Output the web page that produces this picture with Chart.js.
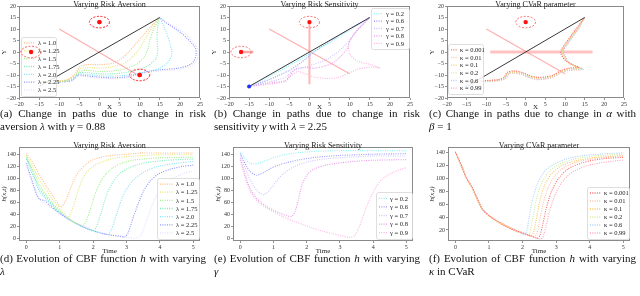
<!DOCTYPE html>
<html><head><meta charset="utf-8">
<script src="https://cdn.jsdelivr.net/npm/chart.js@4.4.1/dist/chart.umd.min.js"></script>
<style>
html,body{margin:0;padding:0;background:#fff;width:640px;height:296px;overflow:hidden;position:relative}
canvas{position:absolute}
.cap{position:absolute;font-family:"Liberation Serif","Times New Roman",serif;font-size:11px;line-height:12.5px;color:#111;text-align:justify;text-align-last:left}
</style></head><body>
<canvas id="ca" width="206" height="111" style="left:0px;top:0px"></canvas>
<canvas id="cb" width="206" height="111" style="left:210px;top:0px"></canvas>
<canvas id="cc" width="206" height="111" style="left:428px;top:0px"></canvas>
<canvas id="cd" width="206" height="115" style="left:0px;top:140px"></canvas>
<canvas id="ce" width="206" height="115" style="left:214px;top:140px"></canvas>
<canvas id="cf" width="206" height="115" style="left:428px;top:140px"></canvas>
<div class="cap" style="left:0px;top:107px;width:206px">(a) Change in paths due to change in risk aversion <i>λ</i> with <i>γ</i> = 0.88</div>
<div class="cap" style="left:214px;top:107px;width:206px">(b) Change in paths due to change in risk sensitivity <i>γ</i> with <i>λ</i> = 2.25</div>
<div class="cap" style="left:429px;top:107px;width:207px">(c) Change in paths due to change in <i>α</i> with <span style="white-space:nowrap"><i>β</i> = 1</span></div>
<div class="cap" style="left:0px;top:252px;width:206px">(d) Evolution of CBF function <i>h</i> with varying <i>λ</i></div>
<div class="cap" style="left:214px;top:252px;width:206px">(e) Evolution of CBF function <i>h</i> with varying <i>γ</i></div>
<div class="cap" style="left:429px;top:252px;width:207px">(f) Evolution of CBF function <i>h</i> with varying <span style="white-space:nowrap"><i>κ</i> in</span> CVaR</div>
<script>
// ================= DATA =================
const lambdaLabels = ['λ = 1.0','λ = 1.25','λ = 1.5','λ = 1.75','λ = 2.0','λ = 2.25','λ = 2.5'];
const gammaLabels  = ['γ = 0.2','γ = 0.6','γ = 0.7','γ = 0.8','γ = 0.9'];
const kappaLabels  = ['κ = 0.001','κ = 0.01','κ = 0.1','κ = 0.2','κ = 0.6','κ = 0.99'];
const panelTitles  = ['Varying Risk Aversion','Varying Risk Sensitivity','Varying CVaR parameter'];

// straight reference path start -> goal
const refLine = [[-15,-15],[15,15]];
const startPoint = [[-15,-15]];
const obstacleRadius = 2.5;

// (a) paths, varying lambda
const pathA_l100 = [[-15,-13],[-11,-12.8],[-8,-12],[-6,-9.5],[-5,-6.5],[-3,-5.5],[0,-5.5],[3,-5],[5,-3.5],[7,-0.5],[9,3.5],[11,7.5],[13,11.5],[15,15]];
const pathA_l125 = [[-15,-13],[-11,-12.8],[-8,-12.2],[-6,-10],[-5,-7.5],[-3,-6.8],[0,-7],[3,-6.5],[6,-5],[8,-2.5],[10,1.5],[11.5,6],[13,10.5],[15,15]];
const pathA_l150 = [[-15,-13],[-11,-12.9],[-8,-12.3],[-6,-10.5],[-5,-8.3],[-3,-8],[0,-8.5],[3,-8.3],[6,-7.5],[9,-5.5],[11,-2.5],[12,1],[12.5,5],[13.5,10],[15,15]];
const pathA_l175 = [[-15,-13],[-11,-13],[-8,-12.5],[-6,-11],[-5,-9],[-3,-9],[0,-9.5],[3,-9.5],[6,-9],[9,-8],[12,-6],[14,-3],[14.5,1],[14.3,6],[14.5,11],[15,15]];
const pathA_l200 = [[-15,-13],[-11,-13],[-8,-12.6],[-6,-11.3],[-5,-9.6],[-3,-9.8],[0,-10.3],[3,-10.5],[6,-10.2],[9,-9.5],[12,-8.5],[15,-7],[17,-4.5],[18,-1],[17.5,4],[16.5,9],[15,15]];
const pathA_l225 = [[-15,-13.2],[-11,-13],[-8,-12.8],[-6.5,-12],[-5.5,-10],[-4,-10.2],[-1,-10.8],[3,-11.2],[7,-10.8],[10.5,-9],[14.7,-7.8],[19.7,-7],[23,-5],[24,-1.5],[23.8,2],[20.5,8],[16.3,13],[15,15]];
const pathA_l250 = [[-15,-13.4],[-11,-13.2],[-8,-13],[-6.5,-12.3],[-5.5,-10.5],[-4,-10.6],[-1,-11.2],[3,-11.6],[7,-11.2],[10.5,-9.5],[14.7,-8.3],[20,-7.5],[23.5,-5.3],[24.5,-1.5],[24.2,2.2],[21,8.3],[16.5,13.2],[15,15]];
const obstaclesA = [[0,13],[10,-10],[-17,0]];
const obstacleTrackA = [[-10,10],[9,-9.5]];

// (b) paths, varying gamma
const pathB_g02 = [[-15,-15],[-10,-10.6],[-5,-5.8],[0,-0.8],[5,4.2],[10,9.5],[15,15]];
const pathB_g06 = [[-15,-15],[-10,-12],[-5,-8],[-2,-4.5],[1.5,0.5],[5,4.5],[9.5,9.5],[15,15]];
const pathB_g07 = [[-15,-15],[-10,-13],[-6,-11],[-4,-8],[0,-6],[4,-3.5],[7,0],[10,5],[12,10],[15,15]];
const pathB_g08 = [[-15,-15],[-10,-13.5],[-6,-12.5],[-5,-10.5],[-3.5,-7.5],[-1,-6.8],[1.5,-7],[4,-6],[6,-4.5],[8,-1.5],[9.5,2],[10,5],[11.5,8.7],[13,11.5],[15,15]];
const pathB_g09 = [[-15,-15],[-10,-14],[-6,-12.8],[-5,-11],[-3,-8.5],[-1,-9.5],[1.5,-11],[4,-11.5],[7,-11.2],[10,-9],[12,-7.5],[15.5,-6.5],[17.5,-7],[15.5,-5.6],[12,-4],[10,-1],[9.7,2.5],[10.6,6.5],[12.5,10.5],[15,15]];
const obstaclesB = [[0,13],[-17,0]];
const obstacleTrackB1 = [[-10,10],[10,-9.5]];
const obstacleTrackB2 = [[0,13],[0,-14]];
const obstacleTrackB3 = [[-17,0],[-14,0]];

// (c) paths, varying kappa
const pathC_k0001 = [[-15,-13],[-11,-12.5],[-7,-12],[-5.5,-11],[-4.7,-8.8],[-3,-8.2],[-1,-8.8],[1,-10.2],[3,-11],[5,-10.8],[7,-10],[9,-8],[11,-7],[13.5,-6.6],[12,-5.6],[10,-3.5],[9,-1],[9,0.8],[10,3.5],[11.5,7],[13,10.5],[15,15]];
const pathC_k001  = [[-15,-13.1],[-11,-12.6],[-7,-12.1],[-5.5,-11.1],[-4.6,-8.9],[-3,-8.4],[-1,-9],[1,-10.4],[3,-11.2],[5,-11],[7,-10.2],[9,-8.2],[11,-7.2],[13.8,-6.8],[12.2,-5.8],[10.2,-3.7],[9.2,-1.1],[9.1,0.7],[10.1,3.4],[11.6,7],[13.1,10.5],[15,15]];
const pathC_k01   = [[-15,-13.2],[-11,-12.7],[-7,-12.2],[-5.4,-11.2],[-4.5,-9.1],[-3,-8.6],[-1,-9.2],[1,-10.6],[3,-11.4],[5,-11.2],[7,-10.4],[9,-8.4],[11,-7.4],[14.1,-7],[12.4,-6],[10.4,-3.9],[9.4,-1.2],[9.2,0.6],[10.2,3.3],[11.7,6.9],[13.2,10.4],[15,15]];
const pathC_k02   = [[-15,-13.3],[-11,-12.8],[-7,-12.3],[-5.3,-11.3],[-4.4,-9.2],[-3,-8.8],[-1,-9.4],[1,-10.8],[3,-11.6],[5,-11.4],[7,-10.6],[9,-8.6],[11,-7.6],[14.3,-7.2],[12.6,-6.2],[10.6,-4.1],[9.6,-1.3],[9.3,0.5],[10.3,3.2],[11.8,6.8],[13.3,10.4],[15,15]];
const pathC_k06   = [[-15,-13.4],[-11,-12.9],[-7,-12.4],[-5.2,-11.4],[-4.3,-9.3],[-3,-9],[-1,-9.6],[1,-11],[3,-11.8],[5,-11.6],[7,-10.8],[9,-8.8],[11,-7.8],[14.5,-7.4],[12.8,-6.4],[10.8,-4.3],[9.8,-1.4],[9.4,0.4],[10.4,3.1],[11.9,6.7],[13.4,10.3],[15,15]];
const pathC_k099  = [[-15,-13.5],[-11,-13],[-7,-12.5],[-5.1,-11.5],[-4.2,-9.4],[-3,-9.2],[-1,-9.8],[1,-11.2],[3,-12],[5,-11.8],[7,-11],[9,-9],[11,-8],[14.7,-7.6],[13,-6.6],[11,-4.5],[10,-1.5],[9.5,0.3],[10.5,3],[12,6.6],[13.5,10.2],[15,15]];
const obstaclesC = [[0,13]];
const obstacleTrackC1 = [[-10,10],[10,-9.5]];
const obstacleTrackC2 = [[-9,0],[17,0]];

// (d) h(x,t) vs time, varying lambda
const tD_l100 = [0,0.2,0.4,0.6,0.8,1.0,1.05,1.15,1.3,1.45,1.6,1.8,2.0,2.4,3.0,3.5,5];
const hD_l100 = [141,125,105,87,70,54,52,60,80,100,113,124,131,137,140,142,142];
const tD_l125 = [0,0.2,0.4,0.6,0.8,1.0,1.15,1.25,1.35,1.5,1.65,1.8,2.0,2.3,2.7,3.3,4,5];
const hD_l125 = [138,118,97,80,64,50,40,35,45,70,95,110,120,128,134,137,139,139];
const tD_l150 = [0,0.2,0.4,0.6,0.8,1.0,1.2,1.4,1.6,1.7,1.8,1.95,2.1,2.25,2.4,2.6,2.9,3.3,4,5];
const hD_l150 = [136,112,88,72,58,46,36,28,23,22,30,55,80,97,108,118,126,131,134,135];
const tD_l175 = [0,0.2,0.4,0.6,0.8,1.0,1.3,1.6,1.85,2.0,2.1,2.25,2.4,2.6,2.8,3.1,3.5,4.2,5];
const hD_l175 = [134,108,82,68,55,44,32,22,15,13,20,45,72,95,108,118,125,130,132];
const tD_l200 = [0,0.2,0.4,0.6,0.8,1.0,1.3,1.6,2.0,2.3,2.45,2.55,2.7,2.85,3.0,3.2,3.5,3.9,4.5,5];
const hD_l200 = [132,104,78,65,53,43,31,22,13,8,7,15,40,65,82,97,110,119,125,128];
const tD_l225 = [0,0.15,0.3,0.4,0.55,0.7,1.0,1.3,1.6,2.0,2.4,2.8,2.95,3.05,3.2,3.35,3.5,3.7,3.95,4.3,4.7,5];
const hD_l225 = [125,100,75,65,63,55,42,31,22,13,7,4,3,10,35,58,78,95,107,115,120,122];
const tD_l250 = [0,0.15,0.3,0.45,0.7,1.0,1.4,1.8,2.2,2.6,3.0,3.3,3.45,3.6,3.8,4.0,4.3,4.7,5];
const hD_l250 = [122,96,72,62,53,41,28,18,10,5,2,1,8,30,60,80,97,108,112];

// (e) h(x,t) vs time, varying gamma
const tE_g02 = [0,0.1,0.2,0.3,0.4,0.55,0.7,0.9,1.1,1.4,1.8,2.3,3,4,5];
const hE_g02 = [144,136,129,125,124,125,128,132,136,140,143,145,146,146,146];
const tE_g06 = [0,0.1,0.2,0.3,0.4,0.5,0.6,0.75,0.9,1.1,1.4,1.8,2.3,3,4,5];
const hE_g06 = [141,130,119,111,107,105,107,111,116,121,126,131,135,138,140,141];
const tE_g07 = [0,0.1,0.2,0.3,0.4,0.5,0.6,0.7,0.8,0.95,1.1,1.3,1.6,2.0,2.5,3.2,4,5];
const hE_g07 = [138,124,110,97,87,80,75,73,76,85,96,108,119,127,132,135,137,137];
const tE_g08 = [0,0.1,0.2,0.3,0.45,0.6,0.8,1.0,1.2,1.4,1.55,1.65,1.75,1.85,2.0,2.2,2.5,2.9,3.4,4,5];
const hE_g08 = [134,115,97,82,70,61,53,47,42,38,37,45,65,88,105,115,121,125,128,130,131];
const tE_g09 = [0,0.1,0.2,0.3,0.45,0.6,0.8,1.0,1.3,1.6,1.9,2.2,2.5,2.8,3.1,3.3,3.45,3.6,3.75,3.9,4.1,4.3,4.6,5];
const hE_g09 = [131,110,92,78,66,58,50,44,36,29,23,17,12,8,4,2,5,22,45,66,87,100,110,118];

// (f) h(x,t) vs time, varying kappa
const tF_k0001 = [0,0.1,0.2,0.3,0.4,0.5,0.6,0.7,0.8,1.0,1.2,1.5,1.8,2.1,2.3,2.45,2.52,2.6,2.7,2.85,3.05,3.35,3.8,4.4,5];
const hF_k0001 = [140,129,117,103,94,86,74,63,52,42,35,26,19,14,10,7,12,28,52,78,98,114,124,130,132];
const tF_k001  = [0,0.1,0.2,0.3,0.4,0.5,0.6,0.7,0.8,1.0,1.2,1.5,1.8,2.1,2.25,2.35,2.42,2.5,2.6,2.75,2.95,3.25,3.7,4.3,5];
const hF_k001  = [140,128,116,103,94,85,74,63,53,43,35,27,20,14,11,9,14,32,58,84,103,117,126,131,134];
const tF_k01   = [0,0.1,0.2,0.3,0.4,0.5,0.6,0.7,0.8,1.0,1.2,1.5,1.8,2.05,2.25,2.32,2.4,2.5,2.65,2.85,3.15,3.6,4.2,5];
const hF_k01   = [139,128,116,103,93,85,73,62,52,42,35,26,19,14,10,15,34,62,88,106,119,127,132,135];
const tF_k02   = [0,0.1,0.2,0.3,0.4,0.5,0.6,0.7,0.8,1.0,1.2,1.5,1.8,2.0,2.15,2.22,2.3,2.4,2.55,2.75,3.05,3.5,4.1,5];
const hF_k02   = [139,127,115,102,93,84,73,62,52,42,35,26,19,15,11,16,37,65,90,108,120,129,134,137];
const tF_k06   = [0,0.1,0.2,0.3,0.4,0.5,0.6,0.7,0.8,1.0,1.2,1.5,1.8,1.95,2.05,2.12,2.2,2.3,2.45,2.65,2.95,3.4,4,5];
const hF_k06   = [139,128,116,103,94,85,74,64,53,43,36,27,20,15,12,18,40,68,92,110,122,131,136,139];
const tF_k099  = [0,0.1,0.2,0.3,0.4,0.5,0.6,0.7,0.8,1.0,1.2,1.5,1.8,2.1,2.35,2.55,2.62,2.7,2.8,2.95,3.15,3.45,3.9,4.5,5];
const hF_k099  = [141,130,118,104,95,86,75,63,52,42,34,25,18,13,9,6,11,26,48,72,92,108,119,125,128];

// ================= STYLES =================
const SERIF = '"Liberation Serif","Times New Roman",serif';
const lambdaColors = ['#ffbc80','#e6e678','#a0f088','#7eecb8','#86e2f6','#8a92ff','#e4deff'];
const gammaColors  = ['#8cf2f2','#9898ff','#ccc4ff','#e898e8','#ffb2e2'];
const kappaColors  = ['#ff6a6a','#ffc2ae','#ffc858','#cfeea0','#aad2ff','#ffa4b8'];
const trackColor = 'rgba(255,110,110,0.55)';

const pts = arr => arr.map(p => ({x:p[0], y:p[1]}));
const tz = (t,h) => t.map((v,i) => ({x:v, y:h[i]}));
function fmtTick(v){ return v < 0 ? '\u2212' + Math.abs(v) : String(v); }
function pathDs(data,label,color){ return {label, inLegend:true, data, showLine:true, pointRadius:0, borderColor:color, backgroundColor:color, borderWidth:1.1, borderDash:[1,1.3], fill:false, tension:0.25}; }
function dotDs(data,color,r){ return {data, showLine:false, pointRadius:r, pointBackgroundColor:color, pointBorderWidth:0, backgroundColor:color, borderColor:color}; }
function lineDs(data,color,w){ return {data, showLine:true, pointRadius:0, borderColor:color, borderWidth:w, fill:false, tension:0}; }

// ================= PLUGINS =================
function drawEllipses(chart,o){ if(!o||!o.centers||!o.centers.length) return; const xs=chart.scales.x, ys=chart.scales.y, c=chart.ctx; c.save(); c.strokeStyle='rgba(255,60,60,0.8)'; c.lineWidth=0.9; c.setLineDash([2,1.5]); o.centers.forEach(p=>{ const px=xs.getPixelForValue(p[0]), py=ys.getPixelForValue(p[1]); const rx=Math.abs(xs.getPixelForValue(p[0]+o.r)-px), ry=Math.abs(ys.getPixelForValue(p[1]+o.r)-py); c.beginPath(); c.ellipse(px,py,rx,ry,0,0,Math.PI*2); c.stroke(); }); c.restore(); }
const framePlugin = { id:'panelFrame', afterDatasetsDraw(chart){ const a=chart.chartArea, c=chart.ctx; c.save(); c.strokeStyle='#8a8a8a'; c.lineWidth=1; c.strokeRect(Math.round(a.left)+0.5, Math.round(a.top)+0.5, Math.round(a.right-a.left)-1, Math.round(a.bottom-a.top)-1); c.restore(); } };
const titlePlugin = { id:'panelTitle', afterDraw(chart,args,o){ if(!o||!o.text) return; const a=chart.chartArea, c=chart.ctx; c.save(); c.font='8px '+SERIF; c.fillStyle='#222'; c.textAlign='center'; c.textBaseline='alphabetic'; c.fillText(o.text,(a.left+a.right)/2,a.top+0.5); c.restore(); } };
const obstaclePlugin = { id:'obstacles', beforeDatasetsDraw(chart,args,o){ drawEllipses(chart,o); } };
const legendPlugin = { id:'panelLegend', afterDraw(chart,args,o){ if(!o) return; const a=chart.chartArea, c=chart.ctx;
  let x = (o.corner[1]==='l') ? a.left+o.dx : a.right-o.dx-o.w;
  let y = (o.corner[0]==='t') ? a.top+o.dy : a.bottom-o.dy-o.h;
  c.save(); c.fillStyle='rgba(255,255,255,0.85)'; c.strokeStyle='#d6d6d6'; c.lineWidth=0.8;
  c.beginPath(); if(c.roundRect) c.roundRect(x+0.5,y+0.5,o.w,o.h,2); else c.rect(x+0.5,y+0.5,o.w,o.h); c.fill(); c.stroke();
  const items = chart.data.datasets.filter(d=>d.inLegend);
  const rh = (o.h-4)/items.length;
  c.font='6.5px '+SERIF; c.textBaseline='middle'; c.textAlign='left';
  items.forEach((d,i)=>{ const cy = y+2+rh*(i+0.5);
    c.strokeStyle=d.borderColor; c.lineWidth=1.3; c.setLineDash([1,1.3]); c.beginPath(); c.moveTo(x+3,cy); c.lineTo(x+o.tx-3,cy); c.stroke();
    c.setLineDash([]); c.fillStyle='#222'; c.fillText(d.label, x+o.tx, cy+0.5); });
  c.restore();
  if (o.redrawObstacles) { drawEllipses(chart, chart.options.plugins.obstacles); const m = chart.getDatasetMeta(0); c.save(); m.controller.draw(); c.restore(); }
} };

function build(id, datasets, cfg){
  const tickFont = {family:SERIF, size:6};
  return new Chart(document.getElementById(id).getContext('2d'), {
    type:'scatter',
    data:{datasets},
    options:{
      animation:false, responsive:false, maintainAspectRatio:false, devicePixelRatio:1,
      layout:{padding:{top:cfg.padTop, right:cfg.padRight, bottom:0, left:0}},
      plugins:{ legend:{display:false}, tooltip:{enabled:false}, title:{display:false},
        panelTitle:{text:cfg.title}, panelLegend:cfg.legend, obstacles:cfg.obstacles || {centers:[]} },
      scales:{
        x:{ type:'linear', position:'bottom', min:cfg.x[0], max:cfg.x[1],
          afterFit(s){ s.height=cfg.xH; s.paddingLeft=0; s.paddingRight=0; },
          ticks:{stepSize:cfg.x[2], includeBounds:false, autoSkip:false, maxRotation:0, padding:1, color:'#333', font:tickFont, callback:fmtTick},
          grid:{drawOnChartArea:false, drawTicks:true, tickLength:2, color:'#777', lineWidth:0.8},
          border:{display:false},
          title:{display:true, text:cfg.xTitle, color:'#222', font:{family:SERIF, size:7}, padding:{top:0,bottom:0}} },
        y:{ type:'linear', position:'left', min:cfg.y[0], max:cfg.y[1],
          afterFit(s){ s.width=cfg.yW; s.paddingTop=0; s.paddingBottom=0; },
          ticks:{stepSize:cfg.y[2], includeBounds:false, autoSkip:false, padding:1, color:'#333', font:tickFont, callback:fmtTick},
          grid:{drawOnChartArea:false, drawTicks:true, tickLength:2, color:'#777', lineWidth:0.8},
          border:{display:false},
          title:{display:true, text:cfg.yTitle, color:'#222', font:{family:SERIF, size:7, style:cfg.yItalic?'italic':'normal'}, padding:{top:0,bottom:0}} }
      }
    },
    plugins:[framePlugin, obstaclePlugin, titlePlugin, legendPlugin]
  });
}

const topCfg = (title, padRight, legend, obstacles) => ({title, padTop:6, padRight, xH:13, yW:19, x:[-20,25,5], y:[-20,20,5], xTitle:'X', yTitle:'Y', legend, obstacles});
const botCfg = (title, padRight, yW, y, legend) => ({title, padTop:7, padRight, xH:14, yW, x:[-0.22,5.2,1], y, xTitle:'Time', yTitle:'h(x,t)', yItalic:true, legend});

// (a)
const pathsA = [pathA_l100,pathA_l125,pathA_l150,pathA_l175,pathA_l200,pathA_l225,pathA_l250];
build('ca', [
  dotDs(pts(obstaclesA),'#ff1010',2.2),
  lineDs(pts(refLine),'#3a3a3a',1),
  ...pathsA.map((p,i)=>pathDs(pts(p),lambdaLabels[i],lambdaColors[i])),
  lineDs(pts(obstacleTrackA),trackColor,1.2)
], topCfg(panelTitles[0], 6, {corner:'tl',dx:2,dy:31,w:35,h:59,tx:17,redrawObstacles:true}, {centers:obstaclesA, r:obstacleRadius}));

// (b)
const pathsB = [pathB_g02,pathB_g06,pathB_g07,pathB_g08,pathB_g09];
build('cb', [
  dotDs(pts(obstaclesB),'#ff1010',2.2),
  dotDs(pts(startPoint),'#2030ff',2),
  lineDs(pts(refLine),'#3a3a3a',1),
  ...pathsB.map((p,i)=>pathDs(pts(p),gammaLabels[i],gammaColors[i])),
  lineDs(pts(obstacleTrackB1),trackColor,1.2),
  lineDs(pts(obstacleTrackB2),'rgba(255,110,110,0.5)',2),
  lineDs(pts(obstacleTrackB3),'rgba(255,110,110,0.6)',2.5)
], topCfg(panelTitles[1], 6, {corner:'tr',dx:1,dy:2,w:38,h:41,tx:15}, {centers:obstaclesB, r:obstacleRadius}));

// (c)
const pathsC = [pathC_k0001,pathC_k001,pathC_k01,pathC_k02,pathC_k06,pathC_k099];
build('cc', [
  dotDs(pts(obstaclesC),'#ff1010',2.2),
  dotDs(pts(startPoint),'#8fb8ff',2),
  lineDs(pts(refLine),'#3a3a3a',1),
  ...pathsC.map((p,i)=>pathDs(pts(p),kappaLabels[i],kappaColors[i])),
  lineDs(pts(obstacleTrackC1),trackColor,1.2),
  lineDs(pts(obstacleTrackC2),'rgba(255,120,120,0.45)',3)
], topCfg(panelTitles[2], 10, {corner:'bl',dx:1,dy:4,w:35,h:50,tx:12}, {centers:obstaclesC, r:obstacleRadius}));

// (d)
const seriesD = [[tD_l100,hD_l100],[tD_l125,hD_l125],[tD_l150,hD_l150],[tD_l175,hD_l175],[tD_l200,hD_l200],[tD_l225,hD_l225],[tD_l250,hD_l250]];
build('cd', seriesD.map((s,i)=>pathDs(tz(s[0],s[1]),lambdaLabels[i],lambdaColors[i])),
  botCfg(panelTitles[0], 6, 19, [-4,152,20], {corner:'br',dx:1,dy:2,w:42,h:61,tx:19}));

// (e)
const seriesE = [[tE_g02,hE_g02],[tE_g06,hE_g06],[tE_g07,hE_g07],[tE_g08,hE_g08],[tE_g09,hE_g09]];
build('ce', seriesE.map((s,i)=>pathDs(tz(s[0],s[1]),gammaLabels[i],gammaColors[i])),
  botCfg(panelTitles[1], 7, 19, [-4,152,20], {corner:'br',dx:1,dy:2,w:36,h:47,tx:14}));

// (f)
const seriesF = [[tF_k0001,hF_k0001],[tF_k001,hF_k001],[tF_k01,hF_k01],[tF_k02,hF_k02],[tF_k06,hF_k06],[tF_k099,hF_k099]];
build('cf', seriesF.map((s,i)=>pathDs(tz(s[0],s[1]),kappaLabels[i],kappaColors[i])),
  botCfg(panelTitles[2], 4, 20, [3,148,20], {corner:'br',dx:1,dy:2,w:42,h:52,tx:17}));
</script>
</body></html>
